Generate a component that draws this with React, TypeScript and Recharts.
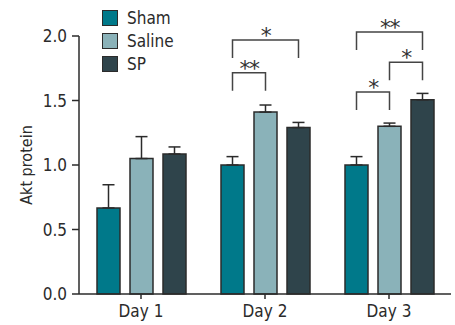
import { BarChart, Bar, XAxis, YAxis, ErrorBar, Legend, Rectangle, Label } from 'recharts';

const days = ['Day 1', 'Day 2', 'Day 3'];
const shamValues = [0.667, 1.0, 1.0];
const shamErrors = [0.18, 0.065, 0.065];
const salineValues = [1.05, 1.41, 1.3];
const salineErrors = [0.17, 0.055, 0.025];
const spValues = [1.085, 1.29, 1.505];
const spErrors = [0.055, 0.04, 0.05];
const yTicks = [0, 0.5, 1, 1.5, 2];

const seriesNames = ['Sham', 'Saline', 'SP'];
const seriesColors = ['#00798a', '#8ab2b9', '#2f444b'];

// significance brackets: which day, from/to series index, height of the bar line, stars
const sigDay = ['Day 2', 'Day 2', 'Day 3', 'Day 3', 'Day 3'];
const sigFrom = [0, 0, 0, 1, 0];
const sigTo = [1, 2, 1, 2, 2];
const sigLevel = [1.715, 1.969, 1.566, 1.796, 2.031];
const sigLabel = ['**', '*', '*', '*', '**'];

const FONT = '"Liberation Sans Narrow", "DejaVu Sans Condensed", "Liberation Sans", sans-serif';
const INK = '#2b2b2b';
const BAR_GAP = 10;
const BAR_SIZE = 23;
const DROP = 18;

const data = days.map((day, i) => ({
    day,
    sham: shamValues[i],
    shamErr: [0, shamErrors[i]],
    saline: salineValues[i],
    salineErr: [0, salineErrors[i]],
    sp: spValues[i],
    spErr: [0, spErrors[i]],
}));

function SpShape(props: any) {
    const { x, y, width, height, payload, fill } = props;
    const base = y + height;
    const pxPerUnit = height / payload.sp;
    const toY = (v: number) => base - v * pxPerUnit;
    const centerOf = (k: number) => x + width / 2 - (2 - k) * (width + BAR_GAP);

    return (
        <g>
            <Rectangle x={x} y={y} width={width} height={height} fill={fill} stroke={INK} strokeWidth={1.5} />
            {sigDay.map((d, i) => {
                if (d !== payload.day) return null;
                const x1 = centerOf(sigFrom[i]);
                const x2 = centerOf(sigTo[i]);
                const ly = toY(sigLevel[i]);
                return (
                    <g key={i}>
                        <path
                            d={`M${x1},${ly + DROP}V${ly}H${x2}V${ly + DROP}`}
                            fill="none"
                            stroke="#444"
                            strokeWidth={1.5}
                        />
                        <text
                            x={(x1 + x2) / 2}
                            y={ly + 3}
                            textAnchor="middle"
                            fontSize={22}
                            letterSpacing={-1.5}
                            fill="#333"
                            fontFamily='"DejaVu Sans", sans-serif'
                        >
                            {sigLabel[i]}
                        </text>
                    </g>
                );
            })}
        </g>
    );
}

function LegendBox() {
    return (
        <div style={{ fontFamily: FONT, fontSize: 17, color: INK }}>
            {seriesNames.map((name, i) => (
                <div key={name} style={{ display: 'flex', alignItems: 'center', height: 23 }}>
                    <span
                        style={{
                            width: 14,
                            height: 14,
                            background: seriesColors[i],
                            border: `1.5px solid ${INK}`,
                            marginRight: 9,
                        }}
                    />
                    <span>{name}</span>
                </div>
            ))}
        </div>
    );
}

function App() {
    const tickStyle = { fontSize: 17, fill: INK, fontFamily: FONT };

    return (
        <div style={{ position: 'absolute', left: 0, top: 0, width: 455, height: 325, background: '#fff' }}>
            <BarChart
                width={455}
                height={325}
                data={data}
                margin={{ top: 36, right: 4, bottom: 0, left: 0 }}
                barGap={BAR_GAP}
                barSize={BAR_SIZE}
            >
                <XAxis
                    dataKey="day"
                    height={31}
                    tickSize={5}
                    tickMargin={6}
                    axisLine={{ stroke: INK, strokeWidth: 1.5 }}
                    tickLine={{ stroke: INK, strokeWidth: 1.5 }}
                    tick={tickStyle}
                />
                <YAxis
                    type="number"
                    domain={[0, 2]}
                    ticks={yTicks}
                    width={79}
                    tickSize={7}
                    tickMargin={5}
                    tickFormatter={(v: number) => v.toFixed(1)}
                    axisLine={{ stroke: INK, strokeWidth: 1.5 }}
                    tickLine={{ stroke: INK, strokeWidth: 1.5 }}
                    tick={tickStyle}
                >
                    <Label
                        content={({ viewBox }: any) => {
                            const cx = viewBox.x + 26;
                            const cy = viewBox.y + viewBox.height / 2;
                            return (
                                <text
                                    x={cx}
                                    y={cy}
                                    transform={`rotate(-90 ${cx} ${cy})`}
                                    textAnchor="middle"
                                    dominantBaseline="central"
                                    fontSize={16}
                                    fill={INK}
                                    fontFamily={FONT}
                                >
                                    Akt protein
                                </text>
                            );
                        }}
                    />
                </YAxis>
                <Legend
                    layout="vertical"
                    align="center"
                    verticalAlign="middle"
                    wrapperStyle={{ left: 102, top: 6, width: 100 }}
                    content={() => <LegendBox />}
                />
                <Bar dataKey="sham" name="Sham" fill={seriesColors[0]} stroke={INK} strokeWidth={1.5} isAnimationActive={false}>
                    <ErrorBar dataKey="shamErr" width={6} stroke={INK} strokeWidth={1.5} direction="y" />
                </Bar>
                <Bar dataKey="saline" name="Saline" fill={seriesColors[1]} stroke={INK} strokeWidth={1.5} isAnimationActive={false}>
                    <ErrorBar dataKey="salineErr" width={6} stroke={INK} strokeWidth={1.5} direction="y" />
                </Bar>
                <Bar dataKey="sp" name="SP" fill={seriesColors[2]} shape={SpShape} isAnimationActive={false}>
                    <ErrorBar dataKey="spErr" width={6} stroke={INK} strokeWidth={1.5} direction="y" />
                </Bar>
            </BarChart>
        </div>
    );
}

export default App;
